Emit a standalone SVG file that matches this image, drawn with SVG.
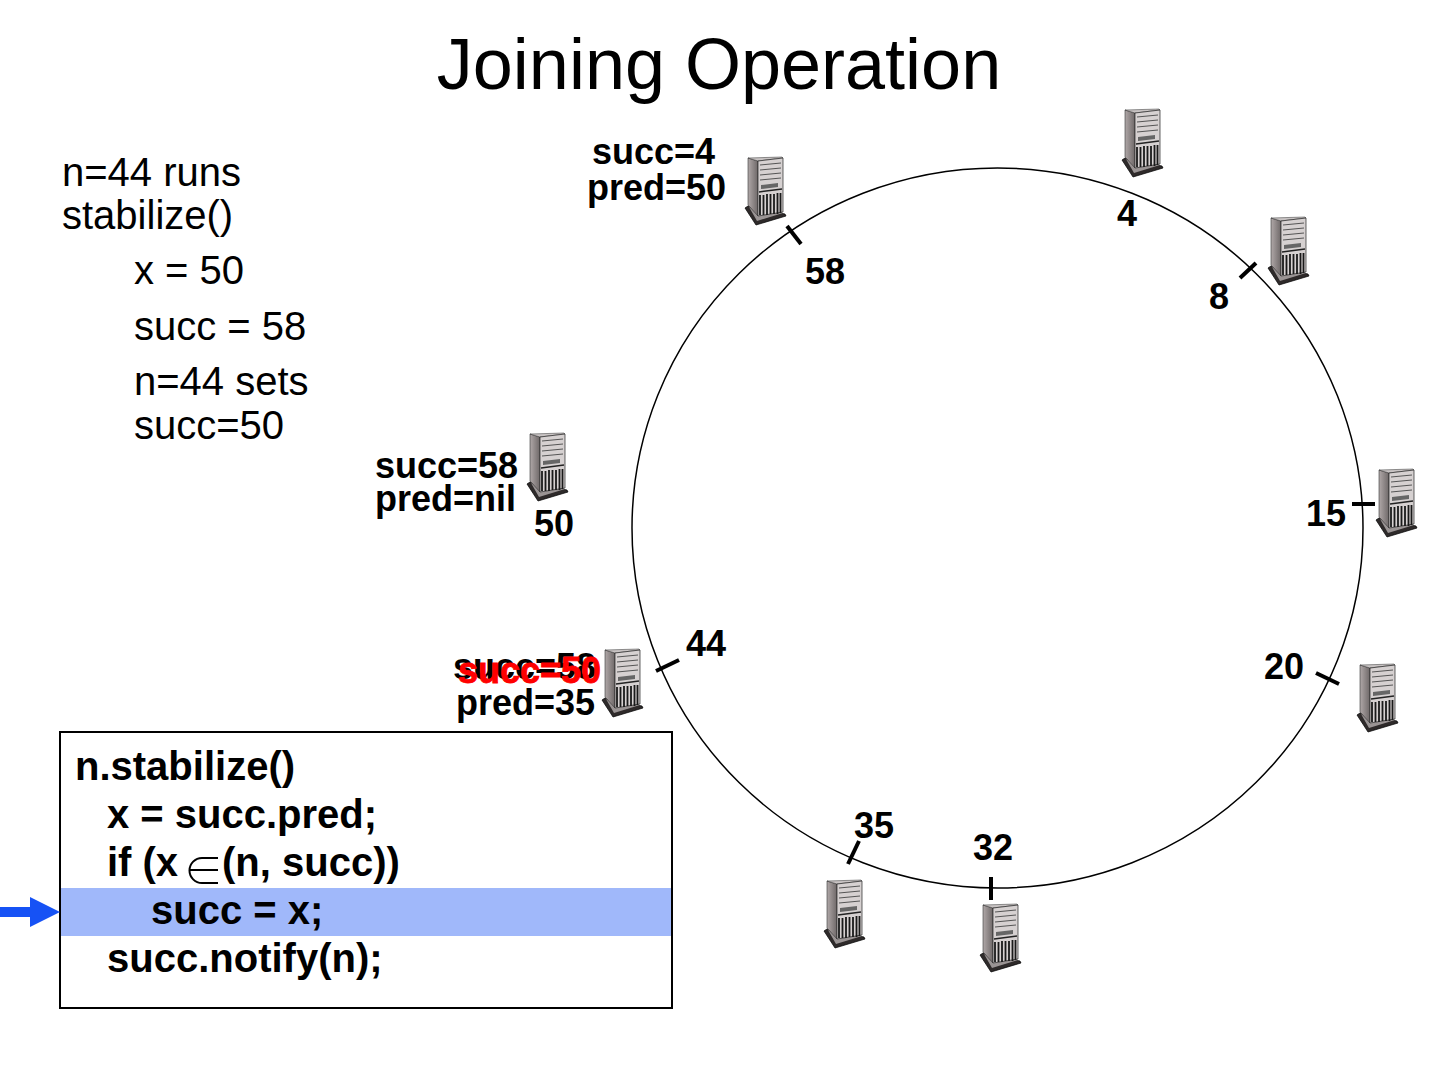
<svg xmlns="http://www.w3.org/2000/svg" xmlns:xlink="http://www.w3.org/1999/xlink" width="1440" height="1080" viewBox="0 0 1440 1080">
<style>
text{font-family:"Liberation Sans",Arial,sans-serif;fill:#000}
.t{font-size:72px}
.b{font-size:40px}
.l{font-size:36px;font-weight:bold}
.c{font-size:40px;font-weight:bold}
.tick{stroke:#000;stroke-width:4;fill:none}
</style>
<defs>
<linearGradient id="side" x1="0" x2="1" y1="0" y2="0"><stop offset="0" stop-color="#b0a8a8"/><stop offset="1" stop-color="#6e6868"/></linearGradient>
<symbol id="srv" width="42" height="70" viewBox="0 0 42 70" overflow="visible">
<polygon points="0,51 3,49 40,57 41,59 11,68" fill="#2e2a2a" stroke="#000" stroke-width="0.7"/>
<polygon points="4,50 13,56 38,56 12,64" fill="#9a9494"/>
<polygon points="3,1 13,4 13,59 3,48" fill="url(#side)" stroke="#333" stroke-width="0.6"/>
<polygon points="3,1 37,0 38,1 13,4" fill="#c9c4c4" stroke="#333" stroke-width="0.5"/>
<polygon points="13,4 38,1 38,55 13,59" fill="#d6d1d1" stroke="#222" stroke-width="0.7"/>
<g stroke="#555" stroke-width="1" fill="none">
<path d="M15,8L36,6M15,13L36,11M15,18L36,16M15,23L36,21"/>
</g>
<polygon points="16,28 33,26 33,30 16,32" fill="#666"/>
<path d="M14,35L37,32" stroke="#222" stroke-width="1.500"/>
<g stroke="#1a1a1a" stroke-width="1.800">
<path d="M15,38V58M18.500,38V58M22,37V58M25.500,37V57M29,37V57M32.500,36V57M35.500,36V56"/>
</g>
</symbol>
</defs>
<g id="title"><text class="t" x="719" y="89" text-anchor="middle">Joining Operation</text></g>
<g id="notes">
<text class="b" x="62" y="186">n=44 runs</text>
<text class="b" x="62" y="229">stabilize()</text>
<text class="b" x="134" y="284">x = 50</text>
<text class="b" x="134" y="340">succ = 58</text>
<text class="b" x="134" y="395">n=44 sets</text>
<text class="b" x="134" y="439">succ=50</text>
</g>
<g id="ring"><ellipse cx="997.500" cy="528" rx="365.500" ry="360" fill="none" stroke="#000" stroke-width="1.500"/></g>
<g id="connectors">
<path class="tick" d="M787,226L801,244"/>
<path class="tick" d="M1240,278L1256,263"/>
<path class="tick" d="M1352,504H1375"/>
<path class="tick" d="M1316,673L1339,684"/>
<path class="tick" d="M656,671L679,660"/>
<path class="tick" d="M859,841L848,864"/>
<path class="tick" d="M991,877V900"/>
</g>
<g id="node-4"><use xlink:href="#srv" href="#srv" x="1122" y="109"/><text class="l" x="1117" y="226">4</text></g>
<g id="node-58"><use xlink:href="#srv" href="#srv" x="745" y="157"/><text class="l" x="805" y="284">58</text>
<text class="l" x="592" y="164">succ=4</text><text class="l" x="587" y="200">pred=50</text></g>
<g id="node-8"><use xlink:href="#srv" href="#srv" x="1268" y="217"/><text class="l" x="1209" y="309">8</text></g>
<g id="node-50"><use xlink:href="#srv" href="#srv" x="527" y="433"/><text class="l" x="534" y="536">50</text>
<text class="l" x="375" y="478">succ=58</text><text class="l" x="375" y="511">pred=nil</text></g>
<g id="node-15"><use xlink:href="#srv" href="#srv" x="1376" y="469"/><text class="l" x="1306" y="526">15</text></g>
<g id="node-44"><use xlink:href="#srv" href="#srv" x="602" y="649"/><text class="l" x="686" y="656">44</text>
<text class="l" x="453" y="679">succ=58</text><text class="l" x="458" y="683" style="fill:#f00;stroke:#f00;stroke-width:0.8">succ=50</text><text class="l" x="456" y="715">pred=35</text></g>
<g id="node-20"><use xlink:href="#srv" href="#srv" x="1357" y="664"/><text class="l" x="1264" y="679">20</text></g>
<g id="node-35"><use xlink:href="#srv" href="#srv" x="824" y="880"/><text class="l" x="854" y="838">35</text></g>
<g id="node-32"><use xlink:href="#srv" href="#srv" x="980" y="904"/><text class="l" x="973" y="860">32</text></g>
<g id="code">
<rect x="60" y="732" width="612" height="276" fill="#fff" stroke="#000" stroke-width="2"/>
<rect x="61" y="888" width="610" height="48" fill="#a0b8fa"/>
<text class="c" x="75" y="780">n.stabilize()</text>
<text class="c" x="107" y="828">x = succ.pred;</text>
<text class="c" x="107" y="876">if (x</text>
<text class="c" x="222" y="876">(n, succ))</text>
<path d="M218,858H202A12.500,12.500 0 0 0 202,883H218M189,870H218" fill="none" stroke="#000" stroke-width="2"/>
<text class="c" x="151" y="924">succ = x;</text>
<text class="c" x="107" y="972">succ.notify(n);</text>
</g>
<g id="pointer"><path d="M0,907H30V897L60,912L30,927V917H0Z" fill="#1652f5"/></g>
</svg>
